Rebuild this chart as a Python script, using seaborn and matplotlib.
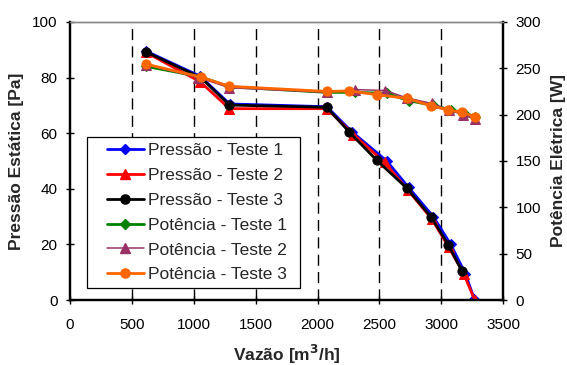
import matplotlib
matplotlib.use("Agg")
import matplotlib.pyplot as plt
import seaborn as sns
import pandas as pd
from matplotlib.lines import Line2D
from matplotlib.patches import Rectangle

sns.set_theme(style="white")
plt.rcParams['font.family'] = ['Liberation Sans', 'DejaVu Sans']

# Pressure (left axis, Pa)
p1_x = [614, 1050, 1290, 2075, 2277, 2559, 2735, 2935, 3076, 3194, 3265]
p1_y = [89.5, 80.5, 70.5, 69.5, 60.5, 50.0, 40.5, 30.0, 20.0, 9.5, 0.5]
p2_x = [614, 1051, 1288, 2075, 2290, 2541, 2730, 2925, 3060, 3180, 3270]
p2_y = [89.0, 78.5, 68.8, 68.8, 59.5, 49.5, 39.5, 29.0, 19.0, 9.5, 0.0]
p3_x = [614, 1056, 1288, 2075, 2258, 2479, 2722, 2918, 3056, 3166]
p3_y = [89.2, 80.0, 70.1, 69.3, 60.3, 50.2, 40.2, 29.8, 19.9, 10.4]

# Power (right axis, W)
w1_x = [614, 1050, 1290, 2075, 2304, 2559, 2735, 2935, 3076, 3194, 3274]
w1_y = [252, 241, 230, 224, 224, 223, 215, 210, 205, 201, 197]
w2_x = [614, 1036, 1288, 2075, 2304, 2546, 2722, 2924, 3059, 3172, 3274]
w2_y = [254, 240, 229, 224, 227, 226, 218, 212, 205, 200, 195]
w3_x = [614, 1056, 1288, 2075, 2258, 2479, 2722, 2918, 3056, 3166, 3274]
w3_y = [254.5, 240.5, 230.5, 225, 225.5, 221.5, 217.5, 209.5, 205, 202.5, 197.5]

labels = ["Pressão - Teste 1", "Pressão - Teste 2", "Pressão - Teste 3",
          "Potência - Teste 1", "Potência - Teste 2", "Potência - Teste 3"]

fig = plt.figure(figsize=(5.67, 3.65), dpi=100)
ax = fig.add_axes([0.1235, 0.178, 0.764, 0.762])
ax2 = ax.twinx()

styles = [
    (ax, p1_x, p1_y, '#0000FF', 'D', 2.0, 5.0),
    (ax, p2_x, p2_y, '#FF0000', '^', 2.0, 7.0),
    (ax, p3_x, p3_y, '#000000', 'o', 2.0, 6.6),
    (ax2, w1_x, w1_y, '#008000', 'D', 2.0, 5.0),
    (ax2, w2_x, w2_y, '#993366', '^', 1.1, 7.0),
    (ax2, w3_x, w3_y, '#FF6600', 'o', 2.0, 6.6),
]
handles = []
for (a, xs, ys, c, m, lw, ms), lab in zip(styles, labels):
    df = pd.DataFrame({"x": xs, "y": ys})
    sns.lineplot(data=df, x="x", y="y", ax=a, color=c, marker=m, markersize=ms,
                 linewidth=lw, markeredgecolor=c, sort=False, estimator=None, legend=False)
    handles.append(Line2D([0], [0], color=c, marker=m, markersize=ms, linewidth=lw,
                          markeredgecolor=c))

ax.set_xlim(0, 3500)
ax.set_ylim(0, 100)
ax2.set_ylim(0, 300)
ax.set_xticks(range(0, 3501, 500))
ax.set_yticks(range(0, 101, 20))
ax2.set_yticks(range(0, 301, 50))

for xv in range(500, 3001, 500):
    ax.axvline(xv, color='black', linestyle=(0, (8, 4.5)), linewidth=1.0, zorder=0)

ax.set_xlabel("Vazão [m$^\\mathbf{3}$/h]", fontsize=12.5, fontweight='bold', labelpad=8)
ax.set_ylabel("Pressão Estática [Pa]", fontsize=12.5, fontweight='bold', labelpad=6)
ax2.set_ylabel("Potência Elétrica [W]", fontsize=12.5, fontweight='bold', labelpad=7)

for a in (ax, ax2):
    a.tick_params(axis='both', which='both', direction='inout', length=6, width=1,
                  colors='black', labelsize=11)
    for s in a.spines.values():
        s.set_color('black')
        s.set_linewidth(1.6)
ax.tick_params(axis='x', bottom=True, pad=10)
ax.tick_params(axis='y', left=True, pad=6)
ax2.tick_params(axis='y', right=True, pad=6)
for a in (ax, ax2):
    a.spines['top'].set_color('#888888')
    a.spines['top'].set_linewidth(1.0)

# legend frame drawn as a box in axes coordinates
ax2.add_patch(Rectangle((0.0393, 0.0432), 0.4917, 0.5432, transform=ax2.transAxes,
                        facecolor='white', edgecolor='black', linewidth=0.9,
                        zorder=4.5, clip_on=False))
leg = ax2.legend(handles, labels, loc='upper left', bbox_to_anchor=(0.0855, 0.565),
                 borderaxespad=0, borderpad=0, fontsize=12.5, frameon=False,
                 handlelength=2.1, handletextpad=0.25, labelspacing=0.56)
leg.set_zorder(5)

fig.savefig("out.png", dpi=100)
